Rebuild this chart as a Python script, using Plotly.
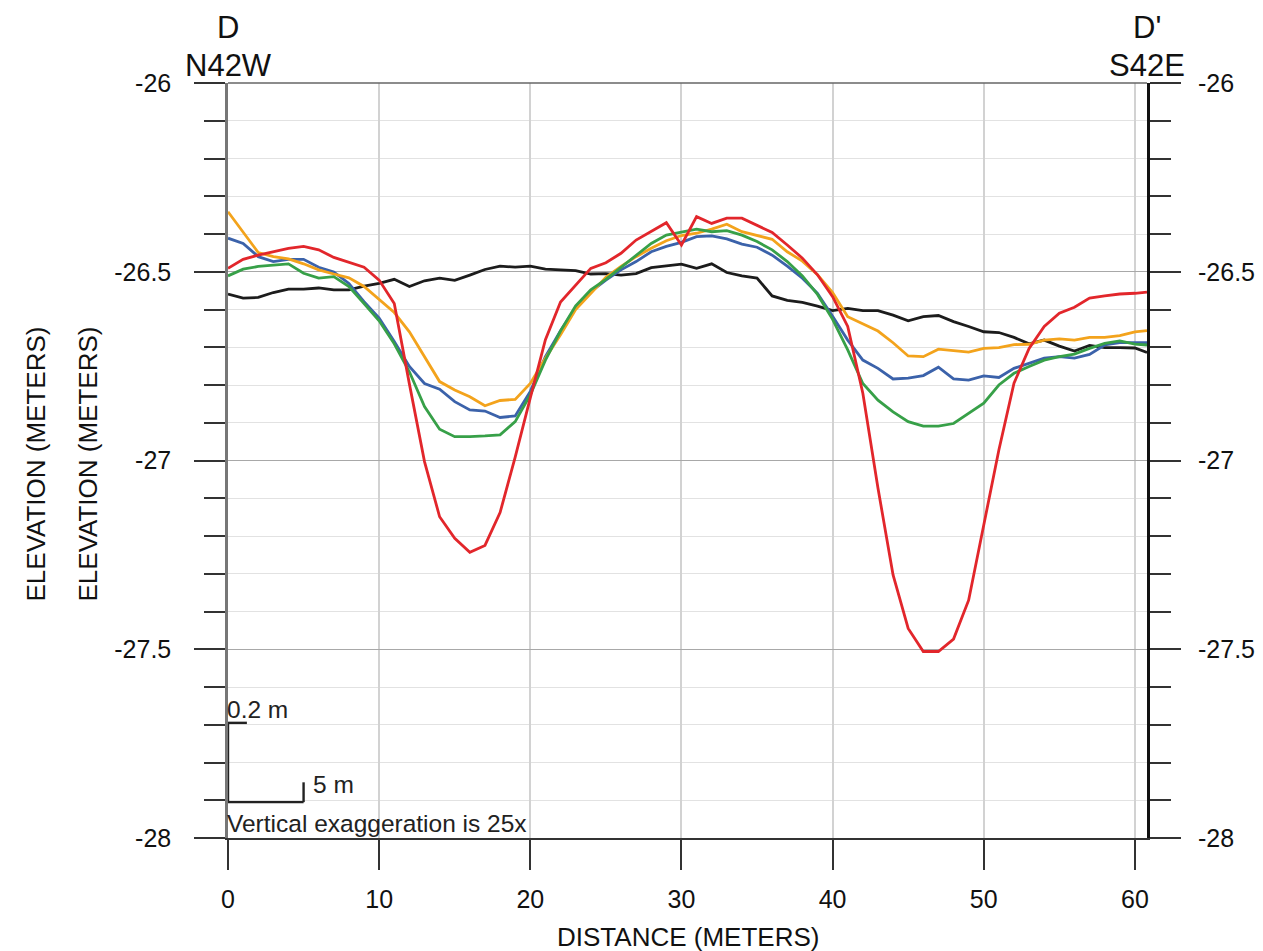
import plotly.graph_objects as go

# ---------------- data ----------------
distance = [0, 1, 2, 3, 4, 5, 6, 7, 8, 9, 10, 11, 12, 13, 14, 15, 16, 17, 18, 19, 20,
            21, 22, 23, 24, 25, 26, 27, 28, 29, 30, 31, 32, 33, 34, 35, 36, 37, 38, 39, 40,
            41, 42, 43, 44, 45, 46, 47, 48, 49, 50, 51, 52, 53, 54, 55, 56, 57, 58, 59, 60, 60.8]

elev_black = [-26.559, -26.570, -26.568, -26.555, -26.546, -26.546, -26.543, -26.548, -26.548, -26.538,
              -26.531, -26.520, -26.539, -26.524, -26.517, -26.523, -26.509, -26.494, -26.485, -26.488,
              -26.485, -26.493, -26.495, -26.497, -26.506, -26.505, -26.509, -26.505, -26.489, -26.484,
              -26.480, -26.491, -26.479, -26.502, -26.511, -26.517, -26.564, -26.576, -26.581, -26.591,
              -26.603, -26.597, -26.603, -26.603, -26.615, -26.630, -26.619, -26.616, -26.632, -26.645,
              -26.659, -26.661, -26.674, -26.691, -26.681, -26.697, -26.710, -26.695, -26.701, -26.701,
              -26.702, -26.714]

elev_blue = [-26.411, -26.425, -26.460, -26.473, -26.467, -26.467, -26.488, -26.501, -26.531, -26.579,
             -26.623, -26.685, -26.751, -26.796, -26.811, -26.844, -26.866, -26.869, -26.886, -26.882,
             -26.817, -26.725, -26.656, -26.595, -26.553, -26.522, -26.495, -26.473, -26.447, -26.433,
             -26.422, -26.407, -26.405, -26.413, -26.427, -26.435, -26.456, -26.485, -26.517, -26.557,
             -26.618, -26.681, -26.734, -26.756, -26.784, -26.782, -26.775, -26.753, -26.784, -26.787,
             -26.776, -26.780, -26.756, -26.743, -26.729, -26.725, -26.729, -26.719, -26.694, -26.688,
             -26.688, -26.688]

elev_orange = [-26.341, -26.394, -26.449, -26.460, -26.466, -26.479, -26.495, -26.506, -26.516, -26.539,
               -26.573, -26.608, -26.659, -26.725, -26.791, -26.813, -26.831, -26.855, -26.841, -26.838,
               -26.796, -26.729, -26.667, -26.600, -26.557, -26.515, -26.486, -26.460, -26.438, -26.418,
               -26.404, -26.398, -26.387, -26.374, -26.394, -26.405, -26.414, -26.447, -26.472, -26.508,
               -26.555, -26.619, -26.638, -26.657, -26.688, -26.723, -26.725, -26.705, -26.709, -26.713,
               -26.703, -26.701, -26.693, -26.692, -26.681, -26.678, -26.681, -26.674, -26.674, -26.669,
               -26.659, -26.656]

elev_green = [-26.511, -26.493, -26.486, -26.483, -26.479, -26.504, -26.517, -26.513, -26.539, -26.584,
              -26.630, -26.691, -26.765, -26.857, -26.917, -26.937, -26.937, -26.935, -26.932, -26.897,
              -26.826, -26.734, -26.657, -26.590, -26.548, -26.520, -26.488, -26.456, -26.425, -26.403,
              -26.396, -26.387, -26.394, -26.391, -26.403, -26.420, -26.442, -26.473, -26.511, -26.560,
              -26.626, -26.707, -26.796, -26.840, -26.871, -26.897, -26.909, -26.909, -26.902, -26.875,
              -26.848, -26.800, -26.769, -26.751, -26.734, -26.725, -26.718, -26.703, -26.690, -26.683,
              -26.692, -26.694]

elev_red = [-26.491, -26.467, -26.456, -26.447, -26.438, -26.433, -26.442, -26.462, -26.475, -26.488,
            -26.522, -26.584, -26.797, -27.003, -27.149, -27.206, -27.243, -27.225, -27.138, -26.991,
            -26.834, -26.680, -26.580, -26.535, -26.491, -26.476, -26.451, -26.416, -26.394, -26.370,
            -26.429, -26.354, -26.372, -26.358, -26.358, -26.376, -26.396, -26.429, -26.464, -26.508,
            -26.566, -26.645, -26.822, -27.073, -27.303, -27.445, -27.506, -27.506, -27.473, -27.370,
            -27.175, -26.972, -26.795, -26.703, -26.645, -26.610, -26.594, -26.570, -26.564, -26.559,
            -26.557, -26.554]

x_ticks = [0, 10, 20, 30, 40, 50, 60]
x_ticktext = ["0", "10", "20", "30", "40", "50", "60"]
y_ticks = [-28, -27.5, -27, -26.5, -26]
y_ticktext = ["-28", "-27.5", "-27", "-26.5", "-26"]
y_minor = [-27.9, -27.8, -27.7, -27.6, -27.4, -27.3, -27.2, -27.1, -26.9, -26.8, -26.7, -26.6,
           -26.4, -26.3, -26.2, -26.1]

X_RANGE = [0, 60.8]
Y_RANGE = [-28, -26]

# scale bar
SCALE_X0, SCALE_LEN_X = 0, 5
SCALE_Y0, SCALE_LEN_Y = -27.905, 0.21

FONT = "Arial, Liberation Sans, sans-serif"

series = [
    ("black", elev_black, "#1c1c1c"),
    ("blue", elev_blue, "#3b62aa"),
    ("orange", elev_orange, "#f3a31c"),
    ("green", elev_green, "#37a048"),
    ("red", elev_red, "#e2262b"),
]

fig = go.Figure()
for name, ys, col in series:
    fig.add_trace(go.Scatter(x=distance, y=ys, mode="lines", name=name,
                             line=dict(color=col, width=2.8), showlegend=False,
                             hoverinfo="skip"))
# dummy trace to activate the right-hand axis
fig.add_trace(go.Scatter(x=[None], y=[None], yaxis="y2", showlegend=False, hoverinfo="skip"))

tickfont = dict(family=FONT, size=25, color="#111")

fig.update_layout(
    width=1255, height=951,
    margin=dict(l=220, r=116, t=75, b=121),
    paper_bgcolor="white", plot_bgcolor="white",
    xaxis=dict(range=X_RANGE, tickmode="array", tickvals=x_ticks, ticktext=x_ticktext,
               ticks="outside", ticklen=30, tickwidth=1.5, tickcolor="#333",
               showgrid=True, gridcolor="#d2d2d2", gridwidth=1.5,
               showline=True, linecolor="#333", linewidth=1.5, mirror=False,
               zeroline=False, tickfont=tickfont, ticklabelstandoff=8, automargin=False),
    yaxis=dict(range=Y_RANGE, tickmode="array", tickvals=y_ticks, ticktext=y_ticktext,
               ticks="outside", ticklen=31, tickwidth=1.5, tickcolor="#333",
               showgrid=True, gridcolor="#a8a8a8", gridwidth=1.2,
               minor=dict(tickmode="array", tickvals=y_minor, ticks="outside", ticklen=21,
                          tickwidth=1.5, tickcolor="#333", showgrid=True,
                          gridcolor="#e2e2e2", gridwidth=1.2),
               showline=True, linecolor="#777", linewidth=2.5,
               zeroline=False, tickfont=tickfont, ticklabelstandoff=18, automargin=False),
    yaxis2=dict(range=Y_RANGE, overlaying="y", side="right", tickmode="array",
                tickvals=y_ticks, ticktext=y_ticktext,
                ticks="outside", ticklen=31, tickwidth=1.5, tickcolor="#333",
                minor=dict(tickmode="array", tickvals=y_minor, ticks="outside", ticklen=21,
                           tickwidth=1.5, tickcolor="#333", showgrid=False),
                showgrid=False, showline=True, linecolor="#111", linewidth=3,
                zeroline=False, tickfont=tickfont, ticklabelstandoff=12, automargin=False),
)

# top frame line
fig.add_shape(type="line", xref="paper", yref="paper", x0=0, x1=1, y0=1, y1=1,
              line=dict(color="#666", width=1.5))

# scale bar
bar = dict(color="#222", width=2.4)
fig.add_shape(type="line", x0=SCALE_X0, x1=SCALE_X0, y0=SCALE_Y0, y1=SCALE_Y0 + SCALE_LEN_Y, line=bar)
fig.add_shape(type="line", x0=SCALE_X0, x1=SCALE_X0 + SCALE_LEN_X, y0=SCALE_Y0, y1=SCALE_Y0, line=bar)
fig.add_shape(type="line", x0=SCALE_X0, x1=SCALE_X0 + SCALE_LEN_X / 4, y0=SCALE_Y0 + SCALE_LEN_Y,
              y1=SCALE_Y0 + SCALE_LEN_Y, line=bar)
fig.add_shape(type="line", x0=SCALE_X0 + SCALE_LEN_X, x1=SCALE_X0 + SCALE_LEN_X, y0=SCALE_Y0,
              y1=SCALE_Y0 + SCALE_LEN_Y / 4, line=bar)

small = dict(family=FONT, size=24.5, color="#222")
fig.add_annotation(x=SCALE_X0, y=SCALE_Y0 + SCALE_LEN_Y, text="0.2 m", showarrow=False,
                   xanchor="left", yanchor="middle", font=small, xshift=-3, yshift=13)
fig.add_annotation(x=SCALE_X0 + SCALE_LEN_X, y=SCALE_Y0 + SCALE_LEN_Y / 4, text="5 m", showarrow=False,
                   xanchor="left", yanchor="middle", font=small, xshift=7, yshift=-2)
fig.add_annotation(x=SCALE_X0, y=SCALE_Y0, text="Vertical exaggeration is 25x", showarrow=False,
                   xanchor="left", yanchor="middle", font=small, xshift=-3, yshift=-21)

big = dict(family=FONT, size=31, color="#111")
for xp, top, bottom in ((0, "D", "N42W"), (1, "D'", "S42E")):
    fig.add_annotation(xref="paper", yref="paper", x=xp, y=1, text=top, showarrow=False,
                       xanchor="center", yanchor="middle", font=big, yshift=56)
    fig.add_annotation(xref="paper", yref="paper", x=xp, y=1, text=bottom, showarrow=False,
                       xanchor="center", yanchor="middle", font=big, yshift=18)

lab = dict(family=FONT, size=26, color="#111")
fig.add_annotation(xref="paper", yref="paper", x=0.5, y=0, text="DISTANCE (METERS)",
                   showarrow=False, xanchor="center", yanchor="middle", font=lab, yshift=-99)
for xs in (-193, -141):
    fig.add_annotation(xref="paper", yref="paper", x=0, y=0.5, text="ELEVATION (METERS)",
                       showarrow=False, textangle=-90, xanchor="center", yanchor="middle",
                       font=lab, xshift=xs, yshift=-4)

fig.write_html("out.html")
